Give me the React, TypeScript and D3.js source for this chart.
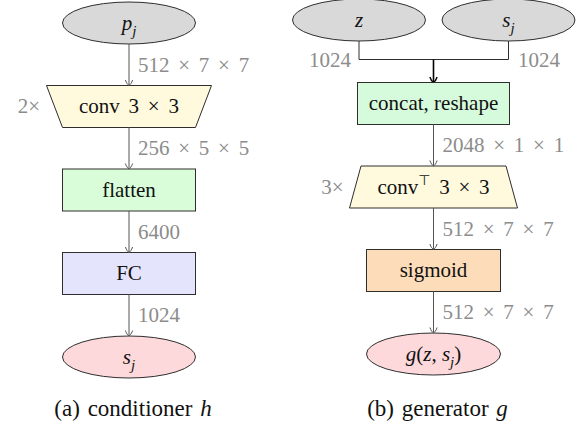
import React from 'react';
import * as d3 from 'd3';

// conditioner h (left column), top to bottom
const condLayers = ['p_j', 'conv 3 × 3', 'flatten', 'FC', 's_j'];
const condKinds = ['ellipse', 'trapDown', 'rect', 'rect', 'ellipse'];
const condDims = ['512 × 7 × 7', '256 × 5 × 5', '6400', '1024'];
const condRepeat = '2×';

// generator g (right column)
const genInputs = ['z', 's_j'];
const genInputDims = ['1024', '1024'];
const genLayers = ['concat, reshape', 'conv^T 3 × 3', 'sigmoid', 'g(z, s_j)'];
const genKinds = ['rect', 'trapUp', 'rect', 'ellipse'];
const genDims = ['2048 × 1 × 1', '512 × 7 × 7', '512 × 7 × 7'];
const genRepeat = '3×';

const captions = ['(a) conditioner ', '(b) generator '];
const captionVars = ['h', 'g'];

const fills: Record<string, string> = {
  p_j: '#d9d9d9', z: '#d9d9d9', 's_j:in': '#d9d9d9',
  'conv 3 × 3': '#fffade', 'conv^T 3 × 3': '#fffade',
  flatten: '#d9fdd9', 'concat, reshape': '#d6fadc',
  FC: '#e4e4fd', sigmoid: '#fddcba',
  s_j: '#fdd9dc', 'g(z, s_j)': '#fdd9dc',
};

const FONT = 'Liberation Serif';
const STROKE = '#2e2e2e';
const EDGE = '#555';
const GRAY = '#8c8c8c';
const txt = { fontFamily: FONT };

// render a label: "_x" subscript, "^T" superscript, letters italic when math
const spans = (s: string, math: boolean) => {
  const out: React.ReactNode[] = [];
  const re = /_(.)|\^T|([A-Za-z]+)|([^A-Za-z_^]+)/g;
  let m: RegExpExecArray | null;
  let shift = 0;
  let k = 0;
  while ((m = re.exec(s))) {
    if (m[1]) {
      const dy = 6 - shift;
      shift = 6;
      out.push(<tspan key={k++} dy={dy} fontSize={15} fontStyle="italic">{m[1]}</tspan>);
    } else if (m[0] === '^T') {
      const dy = -9 - shift;
      shift = -9;
      out.push(<tspan key={k++} dy={dy} fontSize={14} style={{ fontFamily: 'DejaVu Sans' }}>{'\u22A4'}</tspan>);
    } else {
      const dy = -shift;
      shift = 0;
      const italic = math && !!m[2];
      out.push(<tspan key={k++} dy={dy} fontStyle={italic ? 'italic' : 'normal'}>{m[0]}</tspan>);
    }
  }
  return out;
};

const arrowHead = (x: number, y: number) =>
  `M${x - 3.6},${y - 5.5} C${x - 2.6},${y - 2.2} ${x - 0.8},${y - 0.6} ${x},${y} ` +
  `C${x + 0.8},${y - 0.6} ${x + 2.6},${y - 2.2} ${x + 3.6},${y - 5.5}`;

function renderNode(key: string, kind: string, x: number, y: number, w: number, w2: number, label: string, fill: string, math: boolean) {
  const h = 42;
  let shape: React.ReactNode;
  if (kind === 'ellipse') {
    shape = <ellipse cx={x} cy={y} rx={w / 2} ry={h / 2} fill={fill} stroke={STROKE} strokeWidth={1} />;
  } else if (kind === 'rect') {
    shape = <rect x={x - w / 2} y={y - h / 2} width={w} height={h} fill={fill} stroke={STROKE} strokeWidth={1} />;
  } else {
    const top = kind === 'trapDown' ? w : w2;
    const bot = kind === 'trapDown' ? w2 : w;
    const pts = [[x - top / 2, y - h / 2], [x + top / 2, y - h / 2], [x + bot / 2, y + h / 2], [x - bot / 2, y + h / 2]];
    shape = <polygon points={pts.map((p) => p.join(',')).join(' ')} fill={fill} stroke={STROKE} strokeWidth={1} />;
  }
  return (
    <g key={key}>
      {shape}
      <text x={x} y={y + 6.5} textAnchor="middle" fontFamily={FONT} style={txt} fontSize={21} fill="#111"
        wordSpacing={label.includes('×') ? 3.5 : 0}>
        {spans(label, math)}
      </text>
    </g>
  );
}

function renderEdge(key: string, x: number, y0: number, y1: number, label: string) {
  return (
    <g key={key}>
      <line x1={x} y1={y0} x2={x} y2={y1} stroke={EDGE} strokeWidth={1} />
      <path d={arrowHead(x, y1)} fill="none" stroke={EDGE} strokeWidth={1} />
      <text x={x + 9} y={y1 - 14} fontFamily={FONT} style={txt} fontSize={21} fill={GRAY} wordSpacing={3.5}>{label}</text>
    </g>
  );
}

const App: React.FC = () => {
  const W = 580;
  const H = 427;
  const half = 21;

  const colX = d3.scalePoint<string>().domain(['a', 'b']).range([129, 433.5]);
  const rowA = d3.scalePoint<number>().domain(d3.range(condLayers.length)).range([23, 357]);
  const rowB = d3.scalePoint<number>().domain(d3.range(genLayers.length + 1)).range([20, 354]);
  const inX = d3.scalePoint<string>().domain(genInputs).range([359, 508.5]);

  const ax = colX('a') as number;
  const bx = colX('b') as number;

  const condW = (k: number) => (condKinds[k] === 'trapDown' ? 165 : 133);
  const genW = (k: number) => (k === 0 ? 152 : genKinds[k] === 'trapUp' ? 168 : 134);

  const mergeY = 59.5;
  const zx = inX('z') as number;
  const sx = inX('s_j') as number;
  const y0 = rowB(0) as number;

  return (
    <svg width={W} height={H} style={{ position: 'absolute', left: 0, top: 0, background: '#fff', fontFamily: FONT }}>
      {/* conditioner */}
      {condLayers.map((l, i) =>
        renderNode('c' + i, condKinds[i], ax, rowA(i) as number, condW(i), 133, l, fills[l], condKinds[i] === 'ellipse'))}
      {condDims.map((d, i) =>
        renderEdge('ce' + i, ax, (rowA(i) as number) + half, (rowA(i + 1) as number) - half, d))}
      <text x={ax - 89} y={(rowA(1) as number) + 6.5} textAnchor="end" fontFamily={FONT} style={txt} fontSize={21} fill={GRAY}>{condRepeat}</text>

      {/* generator inputs */}
      {genInputs.map((l) =>
        renderNode('in' + l, 'ellipse', inX(l) as number, y0, 133, 133, l, fills[l === 'z' ? l : 's_j:in'], true))}
      <path d={`M${zx},${y0 + half} V${mergeY} H${sx} V${y0 + half}`} fill="none" stroke={STROKE} strokeWidth={1} />
      <line x1={bx} y1={mergeY} x2={bx} y2={(rowB(1) as number) - half} stroke="#000" strokeWidth={1.6} />
      <path d={arrowHead(bx, (rowB(1) as number) - half)} fill="none" stroke="#000" strokeWidth={1.4} />
      <text x={zx - 8} y={mergeY + 7.5} textAnchor="end" fontFamily={FONT} style={txt} fontSize={21} fill={GRAY}>{genInputDims[0]}</text>
      <text x={sx + 9.5} y={mergeY + 7.5} fontFamily={FONT} style={txt} fontSize={21} fill={GRAY}>{genInputDims[1]}</text>

      {/* generator layers */}
      {genLayers.map((l, i) =>
        renderNode('g' + i, genKinds[i], bx, rowB(i + 1) as number, genW(i), 145, l, fills[l], genKinds[i] === 'ellipse'))}
      {genDims.map((d, i) =>
        renderEdge('ge' + i, bx, (rowB(i + 1) as number) + half, (rowB(i + 2) as number) - half, d))}
      <text x={bx - 90} y={(rowB(2) as number) + 7} textAnchor="end" fontFamily={FONT} style={txt} fontSize={21} fill={GRAY}>{genRepeat}</text>

      {/* captions */}
      {captions.map((c, i) => (
        <text key={'cap' + i} x={(i === 0 ? ax : bx) + 4} y={416} textAnchor="middle" fontFamily={FONT} style={txt}
          fontSize={23} wordSpacing={2} fill="#111">
          {c}<tspan fontStyle="italic">{captionVars[i]}</tspan>
        </text>
      ))}
    </svg>
  );
};

export default App;
